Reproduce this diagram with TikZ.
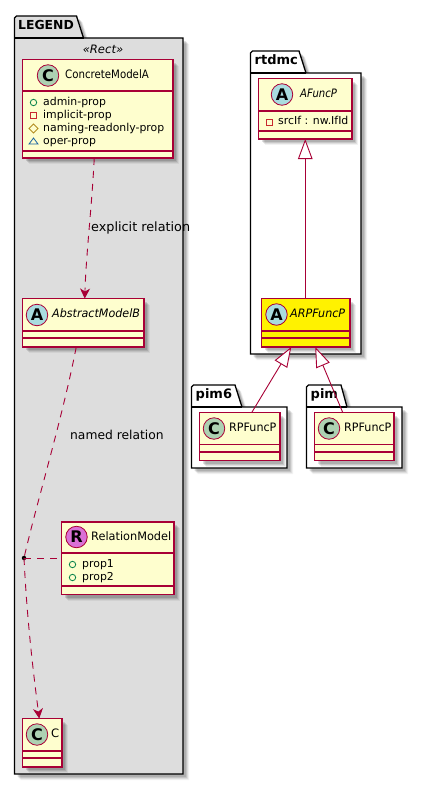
\documentclass[tikz,border=0pt]{standalone}
\usepackage{fontspec}
\usepackage{graphicx}
\setmainfont{DejaVu Sans}
\usetikzlibrary{arrows.meta,shadows,calc}
\definecolor{umlred}{HTML}{A80036}
\definecolor{umlfill}{HTML}{FEFECE}
\definecolor{legendgray}{HTML}{DDDDDD}
\definecolor{circC}{HTML}{ADD1B2}
\definecolor{circA}{HTML}{A9DCDF}
\definecolor{circR}{HTML}{DA70D6}
\definecolor{visgreen}{HTML}{038048}
\definecolor{visred}{HTML}{C82930}
\definecolor{visgold}{HTML}{B38D22}
\definecolor{visblue}{HTML}{1963A0}
\tikzset{
  softshadow/.style={
    general shadow={fill=black,opacity=.05,shadow xshift=6pt,shadow yshift=-6pt},
    general shadow={fill=black,opacity=.08,shadow xshift=5pt,shadow yshift=-5pt},
    general shadow={fill=black,opacity=.1,shadow xshift=4pt,shadow yshift=-4pt},
    general shadow={fill=black,opacity=.12,shadow xshift=3pt,shadow yshift=-3pt}},
  clsbox/.style={draw=umlred,line width=1.1pt,fill=umlfill,inner sep=0pt,outer sep=0pt,rectangle,softshadow},
  clsline/.style={draw=umlred,line width=1.1pt},
  pkg/.style={draw=black,line width=1.3pt,softshadow},
  pkgline/.style={draw=black,line width=1.1pt},
  pkglabel/.style={anchor=mid west,inner sep=0pt,font=\bfseries\fontsize{13}{13}\selectfont},
  circ/.style={circle,draw=umlred,line width=.8pt,minimum size=21.5pt,inner sep=0pt,font=\bfseries\fontsize{16}{16}\selectfont},
  clsname/.style={anchor=mid west,inner sep=0pt,font=\fontsize{11.6}{12}\selectfont},
  absname/.style={clsname,font=\itshape\fontsize{11.6}{12}\selectfont},
  member/.style={anchor=mid west,inner sep=0pt,font=\fontsize{10.9}{12}\selectfont},
  rellabel/.style={anchor=mid west,inner sep=0pt},
  dashrel/.style={draw=umlred,line width=.9pt,dash pattern=on 7pt off 6pt},
  extends/.style={draw=umlred,line width=.9pt,-{Triangle[open,fill=white,length=20pt,width=14.5pt,line width=.9pt]}},
  openhead/.style={-{Stealth[inset=3pt,length=10pt,width=10pt,fill=umlred]}},
  vis/.style={line width=.8pt}
}
\newcommand{\hsq}[2]{\scalebox{#1}[1]{#2}}
\newcommand{\umlclass}[9][]{%
  \pgfmathsetmacro{\cw}{#4-#2}\pgfmathsetmacro{\ch}{#5-#3}%
  \node[clsbox,minimum width=\cw pt,minimum height=\ch pt,#1] (#9) at ({(#2+#4)/2},{(#3+#5)/2}) {};
  \draw[clsline] (#2,#6) -- (#4,#6);
  \draw[clsline] (#2,#7) -- (#4,#7);
}
\newcommand{\pkgshape}[9][]{%
  \path[pkg,#1] (#2,#3+2) -- (#2+2,#3) -- (#4,#3) -- (#5,#6) -- (#7,#6) -- (#7,#8) -- (#2,#8) -- cycle;
  \draw[pkgline] (#2,#6) -- (#5,#6);
}
\begin{document}
\begin{tikzpicture}[x=1pt,y=-1pt]
\useasboundingbox (0,0) rectangle (423,785);
\fill[white] (0,0) rectangle (423,785);
% packages
\pkgshape[fill=legendgray]{14.5}{16}{76.5}{83.5}{38}{183}{774}{}
\node[pkglabel,font=\bfseries\fontsize{12.4}{13}\selectfont] (legendlbl) at (18,27) {LEGEND};
\node[anchor=center,inner sep=0pt,font=\itshape\fontsize{11.6}{12}\selectfont] (rectlbl) at (103,49.5) {«Rect»};
\pkgshape[fill=white]{250.5}{51}{299}{306}{73}{361}{354}{}
\node[pkglabel] (rtdmclbl) at (254.5,62) {rtdmc};
\pkgshape[fill=white]{191.5}{385}{235}{242}{407}{287}{468}{}
\node[pkglabel] (pimsixlbl) at (195.5,396) {pim6};
\pkgshape[fill=white]{306.5}{385}{341}{347}{407}{402}{468}{}
\node[pkglabel] (pimlbl) at (310.5,396) {pim};
% ConcreteModelA
\umlclass{22.5}{59.5}{173}{158}{91}{151}{}{concrete}
\node[circ,fill=circC] (concreteC) at (48,75.5) {C};
\node[clsname] (concreteN) at (65,76) {\hsq{.88}{ConcreteModelA}};
\draw[visgreen,vis] (33.5,102.5) circle (3.2);
\node[member] (m1) at (43,102.5) {admin-prop};
\draw[visred,vis] (30.5,112.5) rectangle (36.5,118.5);
\node[member] (m2) at (43,115.5) {implicit-prop};
\draw[visgold,vis] (33.5,124) -- (38,128.5) -- (33.5,133) -- (29,128.5) -- cycle;
\node[member] (m3) at (43,128.5) {naming-readonly-prop};
\draw[visblue,vis] (33.5,138) -- (38,144) -- (29,144) -- cycle;
\node[member] (m4) at (43,141.5) {oper-prop};
% AbstractModelB
\umlclass{22.5}{298.5}{144}{347}{331}{338}{}{abstract}
\node[circ,fill=circA] (abstractC) at (37,315) {A};
\node[absname] (abstractN) at (52,315) {\hsq{.96}{AbstractModelB}};
% RelationModel
\umlclass{61.5}{522}{174}{594.5}{553}{586}{}{relation}
\node[circ,fill=circR] (relationC) at (76.5,537) {R};
\node[clsname] (relationN) at (91,537.5) {\hsq{.975}{RelationModel}};
\draw[visgreen,vis] (72.5,564.5) circle (3.2);
\node[member] (p1) at (82,564.5) {prop1};
\draw[visgreen,vis] (72.5,577.5) circle (3.2);
\node[member] (p2) at (82,577.5) {prop2};
% C
\umlclass{22.5}{718.5}{62}{767}{751}{758}{}{cclass}
\node[circ,fill=circC] (cC) at (37,734.5) {C};
\node[clsname] (cN) at (51,735) {C};
% AFuncP
\umlclass{258.5}{78.5}{352}{139}{111}{131}{}{afunc}
\node[circ,fill=circA] (afuncC) at (282,94.5) {A};
\node[absname] (afuncN) at (300,95) {\hsq{.87}{AFuncP}};
\draw[visred,vis] (266.5,119.5) rectangle (272,125.5);
\node[member] (srcif) at (278,122) {srcIf : nw.IfId};
% ARPFuncP
\umlclass[fill=yellow]{261.5}{298.5}{350}{347}{331}{338}{}{arpfunc}
\node[circ,fill=circA] (arpC) at (276.5,314.5) {A};
\node[absname] (arpN) at (290,315) {\hsq{.96}{ARPFuncP}};
% pim6 RPFuncP
\umlclass{199.5}{412.5}{280}{460.5}{444.5}{452}{}{rpsix}
\node[circ,fill=circC] (rpsixC) at (214,428.5) {C};
\node[clsname] (rpsixN) at (229,429) {\hsq{.96}{RPFuncP}};
% pim RPFuncP
\umlclass{314.5}{412.5}{394}{460.5}{444.5}{452}{}{rp}
\node[circ,fill=circC] (rpC) at (329,428.5) {C};
\node[clsname] (rpN) at (344,429) {\hsq{.96}{RPFuncP}};
% relation dot
\node[circle,fill=black,minimum size=4.5pt,inner sep=0pt] (reldot) at (24,558) {};
% connectors
\draw[dashrel,openhead] ([xshift=-3.5pt]concrete.south) .. controls (92,205) and (86,255) .. ([xshift=1.5pt]abstract.north);
\draw[dashrel] ([xshift=-7pt]abstract.south) .. controls (62,420) and (36,505) .. (reldot.center);
\draw[dashrel] (reldot.center) -- (relation.west |- reldot.center);
\draw[dashrel,openhead] (reldot.center) .. controls (27,620) and (33,670) .. ([xshift=-3pt]cclass.north);
\draw[extends] (arpfunc.north -| afunc.south) -- (afunc.south);
\draw[extends] ([xshift=12pt]rpsix.north) -- ([xshift=-14.5pt]arpfunc.south);
\draw[extends] ([xshift=-11.5pt]rp.north) -- ([xshift=9.5pt]arpfunc.south);
% relation labels
\node[rellabel,font=\fontsize{12.8}{13}\selectfont] (explicitlbl) at (91,229) {explicit relation};
\node[rellabel,font=\fontsize{12.3}{13}\selectfont] (namedlbl) at (70,437) {named relation};
\end{tikzpicture}
\end{document}
